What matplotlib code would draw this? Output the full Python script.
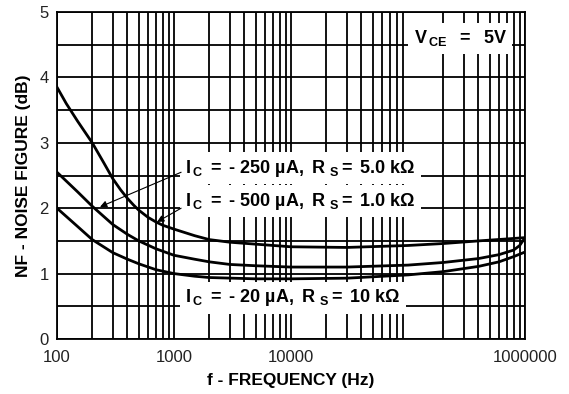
import numpy as np
import matplotlib
matplotlib.use("Agg")
import matplotlib.pyplot as plt
from matplotlib.ticker import FixedLocator, LogLocator, NullFormatter

plt.rcParams['font.family'] = ['Liberation Sans', 'DejaVu Sans']
plt.rcParams['mathtext.fontset'] = 'custom'
plt.rcParams['mathtext.rm'] = 'Liberation Sans'
plt.rcParams['mathtext.bf'] = 'Liberation Sans:bold'
plt.rcParams['mathtext.it'] = 'Liberation Sans:italic'

# curves
f_250 = [100, 120, 150, 200, 250, 300, 350, 400, 450, 500, 600, 700, 800, 1000, 1500, 2000, 3000,
         5000, 10000, 30000, 100000, 200000, 400000, 700000, 1000000]
nf_250 = [3.85, 3.6, 3.33, 3.0, 2.7, 2.45, 2.28, 2.15, 2.05, 1.97, 1.86, 1.79, 1.74, 1.68, 1.58, 1.52, 1.48,
          1.45, 1.41, 1.40, 1.43, 1.46, 1.50, 1.53, 1.55]

f_500 = [100, 150, 200, 300, 400, 500, 700, 1000, 1500, 2000, 3000, 5000, 10000, 30000,
         100000, 200000, 400000, 600000, 800000, 900000, 1000000]
nf_500 = [2.55, 2.25, 2.03, 1.75, 1.6, 1.5, 1.38, 1.28, 1.22, 1.18, 1.14, 1.12, 1.10, 1.10,
          1.13, 1.17, 1.23, 1.29, 1.36, 1.43, 1.55]

f_20 = [100, 150, 200, 300, 400, 500, 700, 1000, 1500, 2000, 5000, 10000, 30000,
        100000, 200000, 400000, 600000, 800000, 1000000]
nf_20 = [2.0, 1.72, 1.52, 1.32, 1.22, 1.15, 1.06, 1.0, 0.96, 0.94, 0.92, 0.92, 0.93,
         0.98, 1.03, 1.11, 1.18, 1.26, 1.33]

xticks = [100, 1000, 10000, 1000000]
xtick_labels = ['100', '1000', '10000', '1000000']

fig = plt.figure(figsize=(5.69, 3.94), dpi=100)
ax = fig.add_axes([0.1002, 0.1396, 0.8225, 0.8299])

for f, nf in [(f_250, nf_250), (f_500, nf_500), (f_20, nf_20)]:
    ax.plot(f, nf, color='black', lw=2.0, zorder=3, solid_joinstyle='round')

ax.set_xscale('log')
ax.set_xlim(100, 1000000)
ax.set_ylim(0, 5)
ax.xaxis.set_major_locator(FixedLocator(xticks))
ax.set_xticklabels(xtick_labels)
ax.xaxis.set_minor_locator(LogLocator(base=10, subs=np.arange(2, 10)))
ax.xaxis.set_minor_formatter(NullFormatter())
ax.set_yticks([0, 1, 2, 3, 4, 5])
ax.set_yticks(np.arange(0.5, 5, 1.0), minor=True)
ax.grid(True, which='both', color='black', lw=1.3, zorder=1)
ax.set_axisbelow(True)
for s in ax.spines.values():
    s.set_linewidth(1.3)
ax.tick_params(which='both', length=0, labelsize=12, labelcolor='#222222')
ax.tick_params(axis='x', pad=8)
ax.tick_params(axis='y', pad=6)

ax.set_xlabel('f - FREQUENCY (Hz)', fontsize=12.5, fontweight='bold', labelpad=6)
ax.set_ylabel('NF - NOISE FIGURE (dB)', fontsize=12.5, fontweight='bold', labelpad=6)

box = dict(boxstyle='square,pad=0.3', fc='white', ec='none')
lab_kw = dict(fontsize=13, va='center', ha='left', zorder=4, bbox=box)
ax.text(1250, 2.61, r'$\mathbf{I\,_{C}\ =\ ‐\ 250\ µA,\ R\ _{S}=\ 5.0\ kΩ}$', **lab_kw)
ax.text(1250, 2.11, r'$\mathbf{I\,_{C}\ =\ ‐\ 500\ µA,\ R\ _{S}=\ 1.0\ kΩ}$', **lab_kw)
ax.text(1250, 0.63, r'$\mathbf{I\,_{C}\ =\ ‐\ 20\ µA,\ R\ _{S}=\ 10\ kΩ}$', **lab_kw)
ax.text(112000, 4.6, r'$\mathbf{V\,_{CE}\ \ =\ \ 5V}$', **lab_kw)

arrow = dict(arrowstyle='-|>', lw=0.8, color='black', mutation_scale=10, shrinkA=0, shrinkB=0)
ax.annotate('', xy=(233, 2.02), xytext=(1150, 2.55), arrowprops=arrow, zorder=5)
ax.annotate('', xy=(716, 1.79), xytext=(1150, 2.0), arrowprops=arrow, zorder=5)

fig.savefig('out.png', dpi=100)
